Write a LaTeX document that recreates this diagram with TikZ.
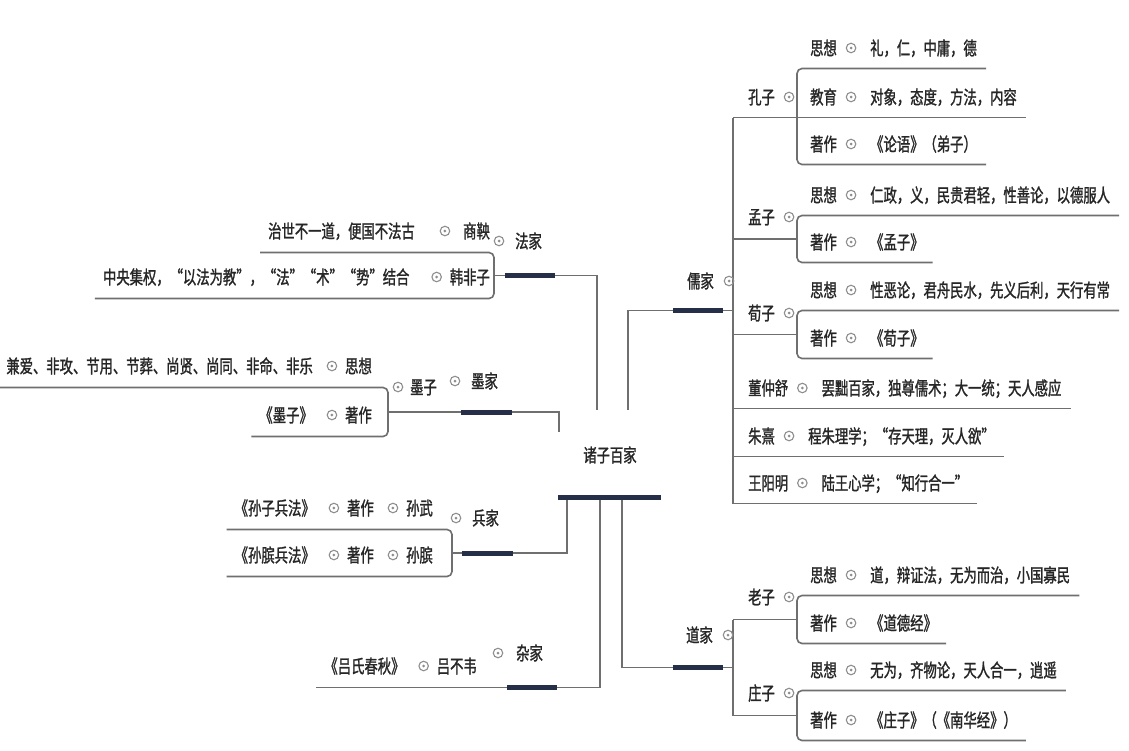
\documentclass[tikz,border=0pt]{standalone}
\usepackage{fontspec}
\newfontfamily\cjk[FakeStretch=0.72,FakeBold=1.3]{Noto Sans CJK SC}
\usetikzlibrary{calc}
\definecolor{txtc}{HTML}{262626}
\definecolor{lnc}{HTML}{6F6F6F}
\definecolor{barc}{HTML}{252F48}
\definecolor{dotc}{HTML}{8E8E8E}
\tikzset{
 lbl/.style={font=\cjk\fontsize{18.5}{22}\selectfont, text=txtc, inner sep=0pt, text height=16.3pt, text depth=2.2pt},
 lnk/.style={draw=lnc, line width=1.6pt},
 rbr/.style={lnk, rounded corners=5pt},
 heavy/.style={draw=barc, line width=5pt},
 knob/.style={circle, draw=dotc, line width=1.1pt, minimum size=9.5pt, inner sep=0pt,
   path picture={\fill[dotc] (path picture bounding box.center) circle (1.5pt);}},
}
% right row: name, bracket-x, label-x, text-y, label, content
\newcommand\Rrow[6]{%
  \node[lbl, anchor=west] (#1) at (#3,#4) {#5};
  \node[knob] (#1k) at ([xshift=14pt]#1.east) {};
  \node[lbl, anchor=west] (#1t) at ([xshift=19pt]#1k.center) {#6};
  \coordinate (#1s) at (#2,#4+20.5);
  \coordinate (#1x) at ([xshift=9pt]#1t.east);
  \coordinate (#1e) at (#1x |- #1s);
}
% left row: [knob gap] name, bracket-x, label-right-x, text-y, label, content
\newcommand\Lrow[7][13pt]{%
  \node[lbl, anchor=east] (#2) at (#4,#5) {#6};
  \node[knob] (#2k) at ([xshift=-#1]#2.west) {};
  \node[lbl, anchor=east] (#2t) at ([xshift=-19pt]#2k.center) {#7};
  \coordinate (#2s) at (#3,#5+21.5);
  \coordinate (#2x) at ([xshift=-8pt]#2t.west);
  \coordinate (#2e) at (#2x |- #2s);
}
% left row with three levels
\newcommand\Lrowthree[7]{%
  \node[lbl, anchor=east] (#1) at (#3,#4) {#5};
  \node[knob] (#1k) at ([xshift=-13pt]#1.west) {};
  \node[lbl, anchor=east] (#1m) at ([xshift=-19pt]#1k.center) {#6};
  \node[knob] (#1mk) at ([xshift=-13pt]#1m.west) {};
  \node[lbl, anchor=east] (#1t) at ([xshift=-19pt]#1mk.center) {#7};
  \coordinate (#1s) at (#2,#4+21.5);
  \coordinate (#1x) at ([xshift=-8pt]#1t.west);
  \coordinate (#1e) at (#1x |- #1s);
}
% parent label on the right: name, x, y, text
\newcommand\Rpar[4]{%
  \node[lbl, anchor=west] (#1) at (#2,#3) {#4};
  \node[knob] (#1k) at ([xshift=14pt]#1.east) {};
}
\begin{document}
\begin{tikzpicture}[x=1pt,y=-1pt]
\useasboundingbox[fill=white] (0,0) rectangle (1129,750);

% ---------- root ----------
\node[lbl] (root) at (610,455) {诸子百家};
\coordinate (rootL) at (558,497.5);
\coordinate (rootR) at (661,497.5);
\coordinate (tapB) at (567,497.5);
\coordinate (tapZ) at (600,497.5);
\coordinate (tapD) at (622,497.5);
\coordinate (endF) at (597,410);
\coordinate (endR) at (628,410);
\coordinate (endM) at (559,432);

% ---------- 儒家 ----------
\coordinate (rjx) at (733,0);
\Rrow{kza}{797}{810}{48}{思想}{礼，仁，中庸，德}
\Rrow{kzb}{797}{810}{97}{教育}{对象，态度，方法，内容}
\Rrow{kzc}{797}{810}{144}{著作}{《论语》（弟子）}
\Rpar{kz}{748}{97}{孔子}
\draw[rbr] (kzae) -- (kzas) -- (kzcs) -- (kzce);
\coordinate (rjtop) at (kzbs -| rjx);
\draw[lnk] (rjtop) -- (kzbe);

\Rrow{mza}{797}{810}{195}{思想}{仁政，义，民贵君轻，性善论，以德服人}
\Rrow{mzb}{797}{810}{242}{著作}{《孟子》}
\Rpar{mz}{748}{217}{孟子}
\draw[rbr] (mzae) -- (mzas) -- (mzbs) -- (mzbe);
\coordinate (mzm) at ($(mzas)!0.5!(mzbs)$);
\draw[lnk] (mzm -| rjx) -- (mzm);

\Rrow{xza}{797}{810}{290}{思想}{性恶论，君舟民水，先义后利，天行有常}
\Rrow{xzb}{797}{810}{338}{著作}{《荀子》}
\Rpar{xz}{748}{313}{荀子}
\draw[rbr] (xzae) -- (xzas) -- (xzbs) -- (xzbe);
\coordinate (xzm) at ($(xzas)!0.5!(xzbs)$);
\draw[lnk] (xzm -| rjx) -- (xzm);

\Rrow{dzs}{733}{748}{388}{董仲舒}{罢黜百家，独尊儒术；大一统；天人感应}
\draw[lnk] (dzss) -- (dzse);
\Rrow{zx}{733}{748}{436}{朱熹}{程朱理学；“存天理，灭人欲”}
\draw[lnk] (zxs) -- (zxe);
\Rrow{wym}{733}{748}{483}{王阳明}{陆王心学；“知行合一”}
\draw[lnk] (wyms) -- (wyme);
\draw[lnk] (rjtop) -- (wyms);

\coordinate (rjm) at ($(rjtop)!0.5!(wyms)$);
\coordinate (rjR) at ([xshift=-10pt]rjm);
\coordinate (rjL) at ([xshift=-60pt]rjm);
\draw[lnk] (rjm) -- (rjR);
\draw[lnk] (rjL) -| (endR);
\draw[heavy] (rjL) -- (rjR);
\node[knob] (rjk) at (729,281) {};
\node[lbl, anchor=east] (rj) at ([xshift=-15pt]rjk.center) {儒家};

% ---------- 道家 ----------
\Rrow{lza}{797}{810}{575}{思想}{道，辩证法，无为而治，小国寡民}
\Rrow{lzb}{797}{810}{623}{著作}{《道德经》}
\Rpar{lz}{748}{597}{老子}
\draw[rbr] (lzae) -- (lzas) -- (lzbs) -- (lzbe);
\coordinate (lzm) at ($(lzas)!0.5!(lzbs)$);
\draw[lnk] (lzm -| rjx) -- (lzm);

\Rrow{zza}{797}{810}{670}{思想}{无为，齐物论，天人合一，逍遥}
\Rrow{zzb}{797}{810}{720}{著作}{《庄子》（《南华经》）}
\Rpar{zz}{748}{693}{庄子}
\draw[rbr] (zzae) -- (zzas) -- (zzbs) -- (zzbe);
\coordinate (zzm) at ($(zzas)!0.5!(zzbs)$);
\draw[lnk] (zzm -| rjx) -- (zzm);
\draw[lnk] (lzm -| rjx) -- (zzm -| rjx);

\coordinate (djm) at ($(lzm -| rjx)!0.5!(zzm -| rjx)$);
\coordinate (djR) at ([xshift=-10pt]djm);
\coordinate (djL) at ([xshift=-60pt]djm);
\draw[lnk] (djm) -- (djR);
\draw[lnk] (tapD) |- (djL);
\draw[heavy] (djL) -- (djR);
\node[knob] (djk) at (728,635) {};
\node[lbl, anchor=east] (dj) at ([xshift=-15pt]djk.center) {道家};

% ---------- 法家 ----------
\node[lbl, anchor=east] (sy) at (490,231) {商鞅};
\node[knob] (syk) at ([xshift=-18pt]sy.west) {};
\node[lbl, anchor=east] (syt) at ([xshift=-30pt]syk.center) {治世不一道，便国不法古};
\coordinate (sys) at (494,252.5);
\coordinate (syx) at ([xshift=-8pt]syt.west);
\coordinate (sye) at (syx |- sys);
\node[lbl, anchor=east] (hf) at (490,277) {韩非子};
\node[knob] (hfk) at ([xshift=-13pt]hf.west) {};
\node[lbl, anchor=east] (hft) at ([xshift=-27pt]hfk.center) {中央集权，“以法为教”，“法”“术”“势”结合};
\coordinate (hfs) at (494,298.5);
\coordinate (hfx) at ([xshift=-8pt]hft.west);
\coordinate (hfe) at (hfx |- hfs);
\draw[rbr] (sye) -- (sys) -- (hfs) -- (hfe);
\coordinate (fjm) at ($(sys)!0.5!(hfs)$);
\coordinate (fjL) at ([xshift=11pt]fjm);
\coordinate (fjR) at ([xshift=61pt]fjm);
\draw[lnk] (fjm) -- (fjL);
\draw[lnk] (fjR) -| (endF);
\draw[heavy] (fjL) -- (fjR);
\node[knob] (fjk) at (499,241) {};
\node[lbl, anchor=west] (fj) at ([xshift=16pt]fjk.center) {法家};

% ---------- 墨家 ----------
\Lrow{moa}{388}{372}{366}{思想}{兼爱、非攻、节用、节葬、尚贤、尚同、非命、非乐}
\Lrow{mob}{388}{372}{415}{著作}{《墨子》}
\draw[rbr] (moae) -- (moas) -- (mobs) -- (mobe);
\coordinate (mom) at ($(moas)!0.5!(mobs)$);
\coordinate (mjL) at (461,0 |- mom);
\coordinate (mjR) at (512,0 |- mom);
\draw[lnk] (mom) -- (mjL);
\draw[lnk] (mjR) -| (endM);
\draw[heavy] (mjL) -- (mjR);
\node[knob] (mzik) at (398,387) {};
\node[lbl, anchor=west] (mzi) at ([xshift=12pt]mzik.center) {墨子};
\node[knob] (mjk) at (455,381) {};
\node[lbl, anchor=west] (mj) at ([xshift=16pt]mjk.center) {墨家};

% ---------- 兵家 ----------
\Lrowthree{swa}{452}{433}{508}{孙武}{著作}{《孙子兵法》}
\Lrowthree{swb}{452}{433}{555}{孙膑}{著作}{《孙膑兵法》}
\draw[rbr] (swae) -- (swas) -- (swbs) -- (swbe);
\coordinate (bjm) at ($(swas)!0.5!(swbs)$);
\coordinate (bjL) at ([xshift=10pt]bjm);
\coordinate (bjR) at ([xshift=61pt]bjm);
\draw[lnk] (bjm) -- (bjL);
\draw[lnk] (bjR) -| (tapB);
\draw[heavy] (bjL) -- (bjR);
\node[knob] (bjk) at (456,518) {};
\node[lbl, anchor=west] (bj) at ([xshift=16pt]bjk.center) {兵家};

% ---------- 杂家 ----------
\Lrow{lbw}{600}{477}{666}{吕不韦}{《吕氏春秋》}
\coordinate (zjL) at (507,0 |- lbws);
\coordinate (zjR) at (557,0 |- lbws);
\draw[lnk] (tapZ) |- (lbwe);
\draw[heavy] (zjL) -- (zjR);
\node[knob] (zjk) at (498,653) {};
\node[lbl, anchor=west] (zj) at ([xshift=18pt]zjk.center) {杂家};

% root bar last
\draw[heavy] (rootL) -- (rootR);
\end{tikzpicture}
\end{document}
